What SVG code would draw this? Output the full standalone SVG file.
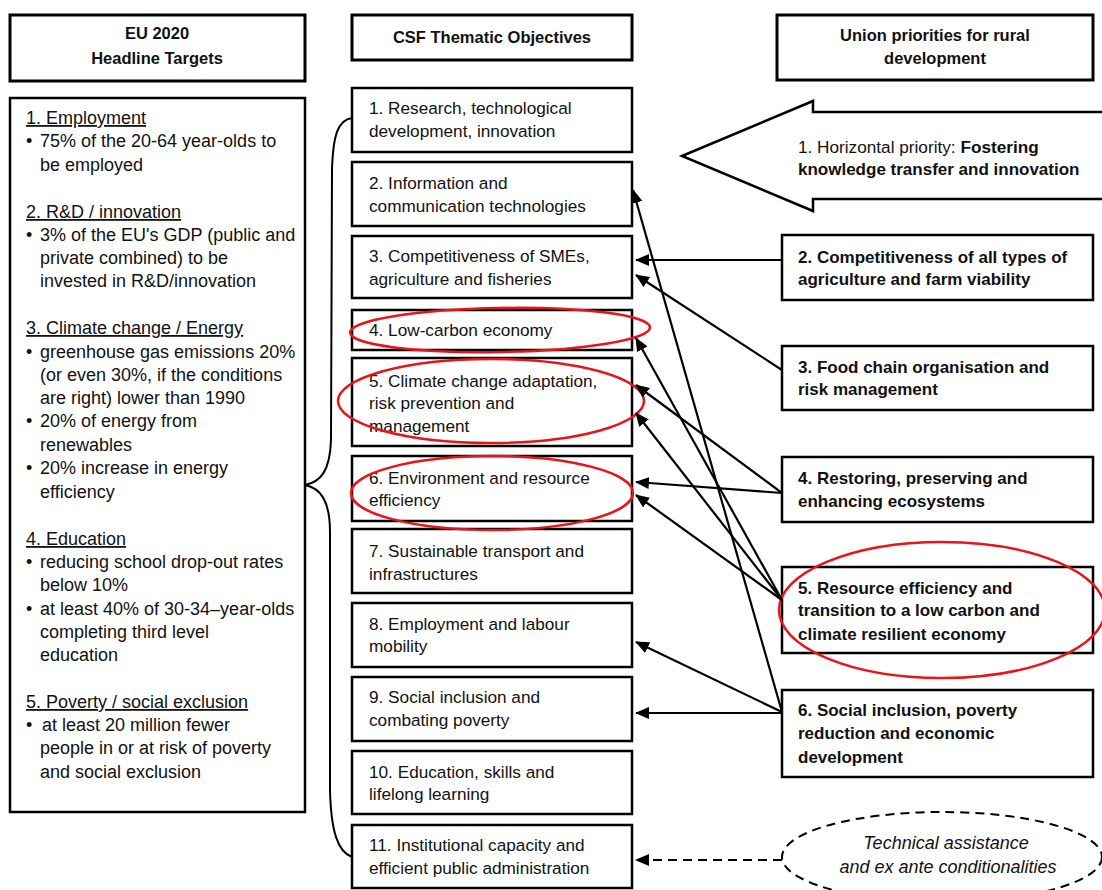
<svg xmlns="http://www.w3.org/2000/svg" width="1102" height="890" viewBox="0 0 1102 890">
<style>
.box{fill:#fff;stroke:#000;stroke-width:2.5}
.hdr{fill:#fff;stroke:#000;stroke-width:3}
.t{font-family:"Liberation Sans",Arial,sans-serif;font-size:17.2px;fill:#111}
.l{font-family:"Liberation Sans",Arial,sans-serif;font-size:18px;fill:#111}
.b{font-family:"Liberation Sans",Arial,sans-serif;font-size:17px;font-weight:bold;fill:#111}
.h{font-family:"Liberation Sans",Arial,sans-serif;font-size:16.5px;font-weight:bold;fill:#111;text-anchor:middle}
.u{text-decoration:underline}
.i{font-family:"Liberation Sans",Arial,sans-serif;font-size:18px;font-style:italic;fill:#111;text-anchor:middle}
.red{fill:none;stroke:#e8141a;stroke-width:2.5}
.ar{stroke:#000;stroke-width:2.2;fill:none;marker-end:url(#ah)}
</style>
<defs>
<marker id="ah" markerWidth="14" markerHeight="12" refX="13" refY="6" orient="auto" markerUnits="userSpaceOnUse"><path d="M0,0 L14,6 L0,12 Z" fill="#000"/></marker>
</defs>
<rect width="1102" height="890" fill="#fff"/>

<g id="hdr-eu">
<rect class="hdr" x="10" y="15" width="295" height="66"/>
<text class="h" x="157" y="39">EU 2020</text>
<text class="h" x="157" y="64">Headline Targets</text>
</g>
<g id="hdr-csf">
<rect class="hdr" x="352" y="15" width="280" height="45"/>
<text class="h" x="492" y="43">CSF Thematic Objectives</text>
</g>
<g id="hdr-union">
<rect class="hdr" x="777" y="15" width="316" height="65"/>
<text class="h" x="935" y="41">Union priorities for rural</text>
<text class="h" x="935" y="64">development</text>
</g>

<g id="eu-targets">
<rect class="box" x="10" y="98" width="295" height="714"/>
<text class="l u" x="26" y="124">1. Employment</text>
<text class="l" x="26" y="147">•</text><text class="l" x="40" y="147">75% of the 20-64 year-olds to</text>
<text class="l" x="40" y="171">be employed</text>
<text class="l u" x="26" y="218">2. R&amp;D / innovation</text>
<text class="l" x="26" y="241">•</text><text class="l" x="40" y="241">3% of the EU's GDP (public and</text>
<text class="l" x="40" y="264">private combined) to be</text>
<text class="l" x="40" y="287">invested in R&amp;D/innovation</text>
<text class="l u" x="26" y="334">3. Climate change / Energy</text>
<text class="l" x="26" y="358">•</text><text class="l" x="40" y="358">greenhouse gas emissions 20%</text>
<text class="l" x="40" y="381">(or even 30%, if the conditions</text>
<text class="l" x="40" y="404">are right) lower than 1990</text>
<text class="l" x="26" y="427">•</text><text class="l" x="40" y="427">20% of energy from</text>
<text class="l" x="40" y="451">renewables</text>
<text class="l" x="26" y="474">•</text><text class="l" x="40" y="474">20% increase in energy</text>
<text class="l" x="40" y="498">efficiency</text>
<text class="l u" x="26" y="545">4. Education</text>
<text class="l" x="26" y="568">•</text><text class="l" x="40" y="568">reducing school drop-out rates</text>
<text class="l" x="40" y="591">below 10%</text>
<text class="l" x="26" y="615">•</text><text class="l" x="40" y="615">at least 40% of 30-34–year-olds</text>
<text class="l" x="40" y="638">completing third level</text>
<text class="l" x="40" y="661">education</text>
<text class="l u" x="26" y="708">5. Poverty / social exclusion</text>
<text class="l" x="26" y="731">•</text><text class="l" x="42" y="731">at least 20 million fewer</text>
<text class="l" x="40" y="754">people in or at risk of poverty</text>
<text class="l" x="40" y="778">and social exclusion</text>
</g>

<g id="brace">
<path d="M352,118 C338,120 333,135 332,170 L331,440 C330,472 320,482 305,485 C320,488 330,500 330,532 L330,790 C331,832 338,852 352,857" fill="none" stroke="#000" stroke-width="2"/>
</g>

<g id="to1"><rect class="box" x="352" y="88" width="280" height="64"/>
<text class="t" x="369" y="114">1. Research, technological</text><text class="t" x="369" y="137">development, innovation</text></g>
<g id="to2"><rect class="box" x="352" y="162" width="280" height="64"/>
<text class="t" x="369" y="189">2. Information and</text><text class="t" x="369" y="212">communication technologies</text></g>
<g id="to3"><rect class="box" x="352" y="236" width="280" height="62"/>
<text class="t" x="369" y="262">3. Competitiveness of SMEs,</text><text class="t" x="369" y="285">agriculture and fisheries</text></g>
<g id="to4"><rect class="box" x="352" y="310" width="280" height="40"/>
<text class="t" x="369" y="336">4. Low-carbon economy</text></g>
<g id="to5"><rect class="box" x="352" y="358" width="280" height="88"/>
<text class="t" x="369" y="387">5. Climate change adaptation,</text><text class="t" x="369" y="409">risk prevention and</text><text class="t" x="369" y="432">management</text></g>
<g id="to6"><rect class="box" x="352" y="456" width="280" height="65"/>
<text class="t" x="369" y="484">6. Environment and resource</text><text class="t" x="369" y="506">efficiency</text></g>
<g id="to7"><rect class="box" x="352" y="529" width="280" height="64"/>
<text class="t" x="369" y="557">7. Sustainable transport and</text><text class="t" x="369" y="580">infrastructures</text></g>
<g id="to8"><rect class="box" x="352" y="603" width="280" height="64"/>
<text class="t" x="369" y="630">8. Employment and labour</text><text class="t" x="369" y="652">mobility</text></g>
<g id="to9"><rect class="box" x="352" y="677" width="280" height="64"/>
<text class="t" x="369" y="703">9. Social inclusion and</text><text class="t" x="369" y="726">combating poverty</text></g>
<g id="to10"><rect class="box" x="352" y="751" width="280" height="63"/>
<text class="t" x="369" y="778">10. Education, skills and</text><text class="t" x="369" y="800">lifelong learning</text></g>
<g id="to11"><rect class="box" x="352" y="825" width="280" height="63"/>
<text class="t" x="369" y="851">11. Institutional capacity and</text><text class="t" x="369" y="874">efficient public administration</text></g>

<g id="up1">
<polygon points="682,156 813,101 813,112 1106,112 1106,199 813,199 813,211" fill="#fff" stroke="#000" stroke-width="2.5"/>
<text class="t" x="798" y="153">1. Horizontal priority: <tspan style="font-weight:bold">Fostering</tspan></text>
<text class="b" x="798" y="175">knowledge transfer and innovation</text>
</g>
<g id="up2"><rect class="box" x="782" y="235" width="311" height="65"/>
<text class="b" x="798" y="263">2. Competitiveness of all types of</text><text class="b" x="798" y="285">agriculture and farm viability</text></g>
<g id="up3"><rect class="box" x="782" y="346" width="311" height="64"/>
<text class="b" x="798" y="373">3. Food chain organisation and</text><text class="b" x="798" y="395">risk management</text></g>
<g id="up4"><rect class="box" x="782" y="457" width="311" height="65"/>
<text class="b" x="798" y="484">4. Restoring, preserving and</text><text class="b" x="798" y="507">enhancing ecosystems</text></g>
<g id="up5"><rect class="box" x="782" y="567" width="311" height="86"/>
<text class="b" x="798" y="594">5. Resource efficiency and</text><text class="b" x="798" y="616">transition to a low carbon and</text><text class="b" x="798" y="640">climate resilient economy</text></g>
<g id="up6"><rect class="box" x="782" y="690" width="311" height="87"/>
<text class="b" x="798" y="716">6. Social inclusion, poverty</text><text class="b" x="798" y="739">reduction and economic</text><text class="b" x="798" y="763">development</text></g>
<g id="ta">
<ellipse cx="942" cy="857" rx="160" ry="45" fill="none" stroke="#000" stroke-width="2" stroke-dasharray="9,6"/>
<text class="i" x="946" y="849">Technical assistance</text>
<text class="i" x="948" y="873">and ex ante conditionalities</text>
</g>

<g id="highlights">
<ellipse class="red" cx="500" cy="330" rx="150" ry="22" transform="rotate(-1 500 330)"/>
<ellipse class="red" cx="491" cy="401" rx="153" ry="42"/>
<ellipse class="red" cx="492" cy="493" rx="141" ry="37"/>
<ellipse class="red" cx="942" cy="610" rx="163" ry="68"/>
</g>

<g id="connectors">
<line class="ar" x1="782" y1="260" x2="636" y2="260"/>
<line class="ar" x1="782" y1="370" x2="636" y2="275"/>
<line class="ar" x1="782" y1="493" x2="636" y2="482"/>
<line class="ar" x1="782" y1="493" x2="636" y2="385"/>
<line class="ar" x1="782" y1="600" x2="636" y2="338"/>
<line class="ar" x1="782" y1="600" x2="636" y2="413"/>
<line class="ar" x1="782" y1="600" x2="636" y2="495"/>
<line class="ar" x1="782" y1="712" x2="633" y2="190"/>
<line class="ar" x1="782" y1="712" x2="636" y2="642"/>
<line class="ar" x1="782" y1="713" x2="636" y2="713"/>
<line class="ar" x1="782" y1="860" x2="636" y2="860" stroke-dasharray="9,6"/>
</g>
</svg>
